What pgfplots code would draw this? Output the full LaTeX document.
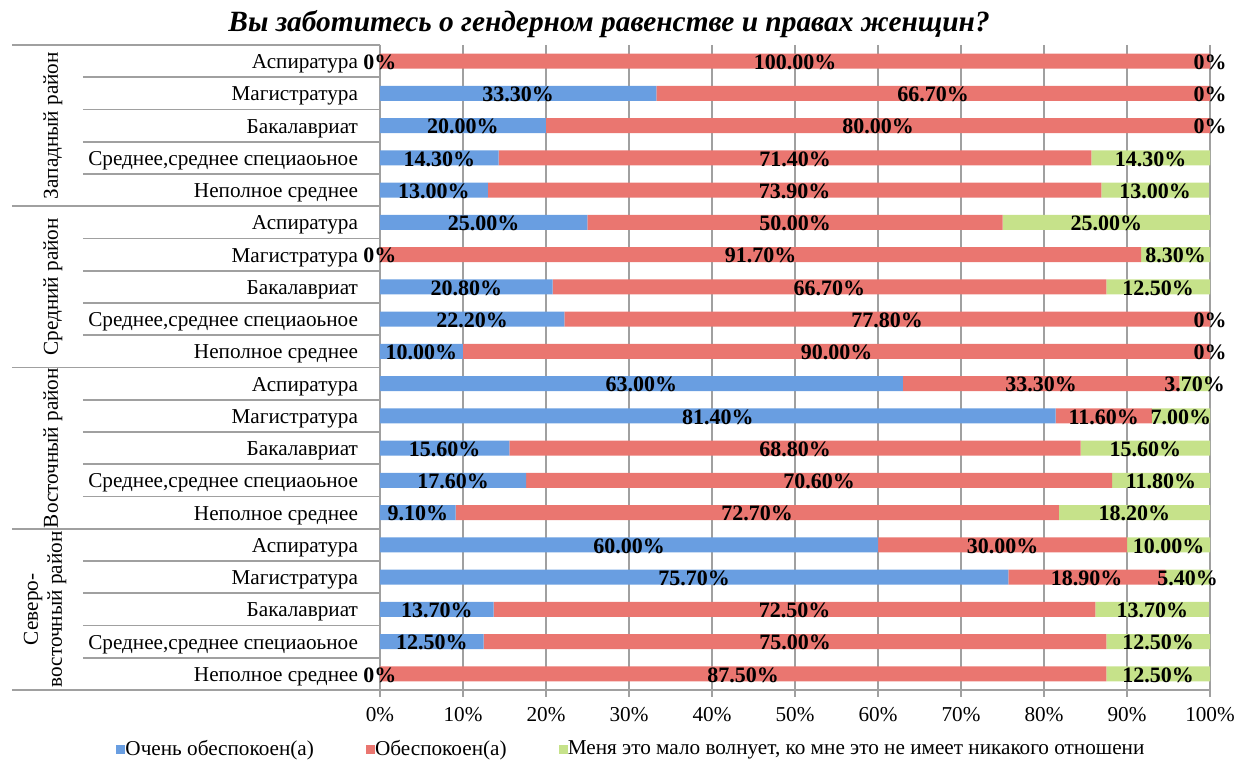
\documentclass[border=0pt]{standalone}
\usepackage{pgfplots}
\pgfplotsset{compat=1.18}
\usepackage{pgfplotstable}
\usepackage{fontspec}
\setmainfont{Liberation Serif}
\definecolor{cblue}{RGB}{105,158,225}
\definecolor{cred}{RGB}{234,118,112}
\definecolor{cgreen}{RGB}{198,226,138}
\definecolor{cgrid}{RGB}{160,160,160}
\newcommand{\lblfont}{\fontsize{10.6}{12}\selectfont}
\pgfplotstableread{
y a b c la lb lc
1 0 100 0 0 100.00 0
2 33.3 66.7 0 33.30 66.70 0
3 20 80 0 20.00 80.00 0
4 14.3 71.4 14.3 14.30 71.40 14.30
5 13.0 73.9 13.0 13.00 73.90 13.00
6 25 50 25 25.00 50.00 25.00
7 0 91.7 8.3 0 91.70 8.30
8 20.8 66.7 12.5 20.80 66.70 12.50
9 22.2 77.8 0 22.20 77.80 0
10 10 90 0 10.00 90.00 0
11 63 33.3 3.7 63.00 33.30 3.70
12 81.4 11.6 7.0 81.40 11.60 7.00
13 15.6 68.8 15.6 15.60 68.80 15.60
14 17.6 70.6 11.8 17.60 70.60 11.80
15 9.1 72.7 18.2 9.10 72.70 18.20
16 60 30 10 60.00 30.00 10.00
17 75.7 18.9 5.4 75.70 18.90 5.40
18 13.7 72.5 13.7 13.70 72.50 13.70
19 12.5 75 12.5 12.50 75.00 12.50
20 0 87.5 12.5 0 87.50 12.50
}\data
\begin{document}
\begin{tikzpicture}
\begin{axis}[
  name=main,
  scale only axis, width=415pt, height=322.5pt,
  xbar stacked, bar width=7.5pt,
  xmin=0, xmax=100, ymin=0.5, ymax=20.5, y dir=reverse,
  axis x line*=bottom, axis y line*=left,
  axis line style={cgrid, line width=0.8pt},
  xtick={0,10,...,100},
  xticklabel={\pgfmathprintnumber{\tick}\%},
  /pgf/number format/assume math mode=true,
  x tick label style={font=\lblfont, yshift=-1.5pt},
  xtick style={cgrid, line width=0.8pt},
  tick align=outside, major tick length=3.5pt,
  xmajorgrids, major grid style={cgrid, line width=0.8pt},
  ytick={1,...,20},
  ytick style={draw=none},
  yticklabels={Аспиратура,Магистратура,Бакалавриат,{Среднее,среднее специаоьное},Неполное среднее,
               Аспиратура,Магистратура,Бакалавриат,{Среднее,среднее специаоьное},Неполное среднее,
               Аспиратура,Магистратура,Бакалавриат,{Среднее,среднее специаоьное},Неполное среднее,
               Аспиратура,Магистратура,Бакалавриат,{Среднее,среднее специаоьное},Неполное среднее},
  y tick label style={font=\lblfont, anchor=base east, xshift=-4pt, yshift=-3.8pt},
  clip=false,
  title={Вы заботитесь о гендерном равенстве и правах женщин?},
  title style={at={(0.276,1)}, anchor=south, yshift=-6pt, font=\bfseries\itshape\fontsize{14.7}{16}\selectfont},
  legend style={at={(0.304,-0.092)}, anchor=center, draw=none, font=\lblfont,
    /tikz/every even column/.append style={column sep=24pt},
    /tikz/every odd column/.append style={column sep=-2pt}},
  legend columns=3,
  legend image code/.code={\fill[#1] (0pt,-2.3pt) rectangle (4.6pt,2.3pt);},
]
\addplot[fill=cblue, draw=none] table[x=a, y=y]{\data};
\addplot[fill=cred, draw=none] table[x=b, y=y]{\data};
\addplot[fill=cgreen, draw=none] table[x=c, y=y]{\data};
\legend{Очень обеспокоен(а),Обеспокоен(а),{Меня это мало волнует, ко мне это не имеет никакого отношени}}
\pgfplotsinvokeforeach{1.5,2.5,3.5,4.5,6.5,7.5,8.5,9.5,11.5,12.5,13.5,14.5,16.5,17.5,18.5,19.5}{
  \draw[cgrid, line width=0.8pt] ([xshift=-148.5pt]axis cs:0,#1) -- (axis cs:0,#1);
}
\pgfplotsinvokeforeach{0.5,5.5,10.5,15.5,20.5}{
  \draw[cgrid, line width=0.8pt] ([xshift=-184pt]axis cs:0,#1) -- (axis cs:0,#1);
}
\node[rotate=90, font=\lblfont] at ([xshift=-163.5pt]axis cs:0,3) {Западный район};
\node[rotate=90, font=\lblfont] at ([xshift=-163.5pt]axis cs:0,8) {Средний район};
\node[rotate=90, font=\lblfont] at ([xshift=-163.5pt]axis cs:0,13) {Восточный район};
\node[rotate=90, font=\lblfont, align=center] at ([xshift=-167.5pt]axis cs:0,18) {Северо-\\восточный район};
\end{axis}
\begin{axis}[
  at={(main.south west)}, anchor=south west,
  scale only axis, width=415pt, height=322.5pt,
  xmin=0, xmax=100, ymin=0.5, ymax=20.5, y dir=reverse,
  hide axis, clip=false,
  point meta=explicit symbolic,
  nodes near coords={\pgfplotspointmeta\%},
  every node near coord/.style={anchor=center, font=\bfseries\fontsize{11}{13}\selectfont, text=black, inner sep=0pt, yshift=-0.6pt},
]
\addplot[draw=none, mark=none] table[x expr=\thisrow{a}/2, y=y, meta=la]{\data};
\addplot[draw=none, mark=none] table[x expr=\thisrow{a}+\thisrow{b}/2, y=y, meta=lb]{\data};
\addplot[draw=none, mark=none] table[x expr=\thisrow{a}+\thisrow{b}+\thisrow{c}/2, y=y, meta=lc]{\data};
\end{axis}
\pgfresetboundingbox
\path ([xshift=-190pt,yshift=-36pt]main.south west) rectangle ([xshift=13.5pt,yshift=22.5pt]main.north east);
\end{tikzpicture}
\end{document}
